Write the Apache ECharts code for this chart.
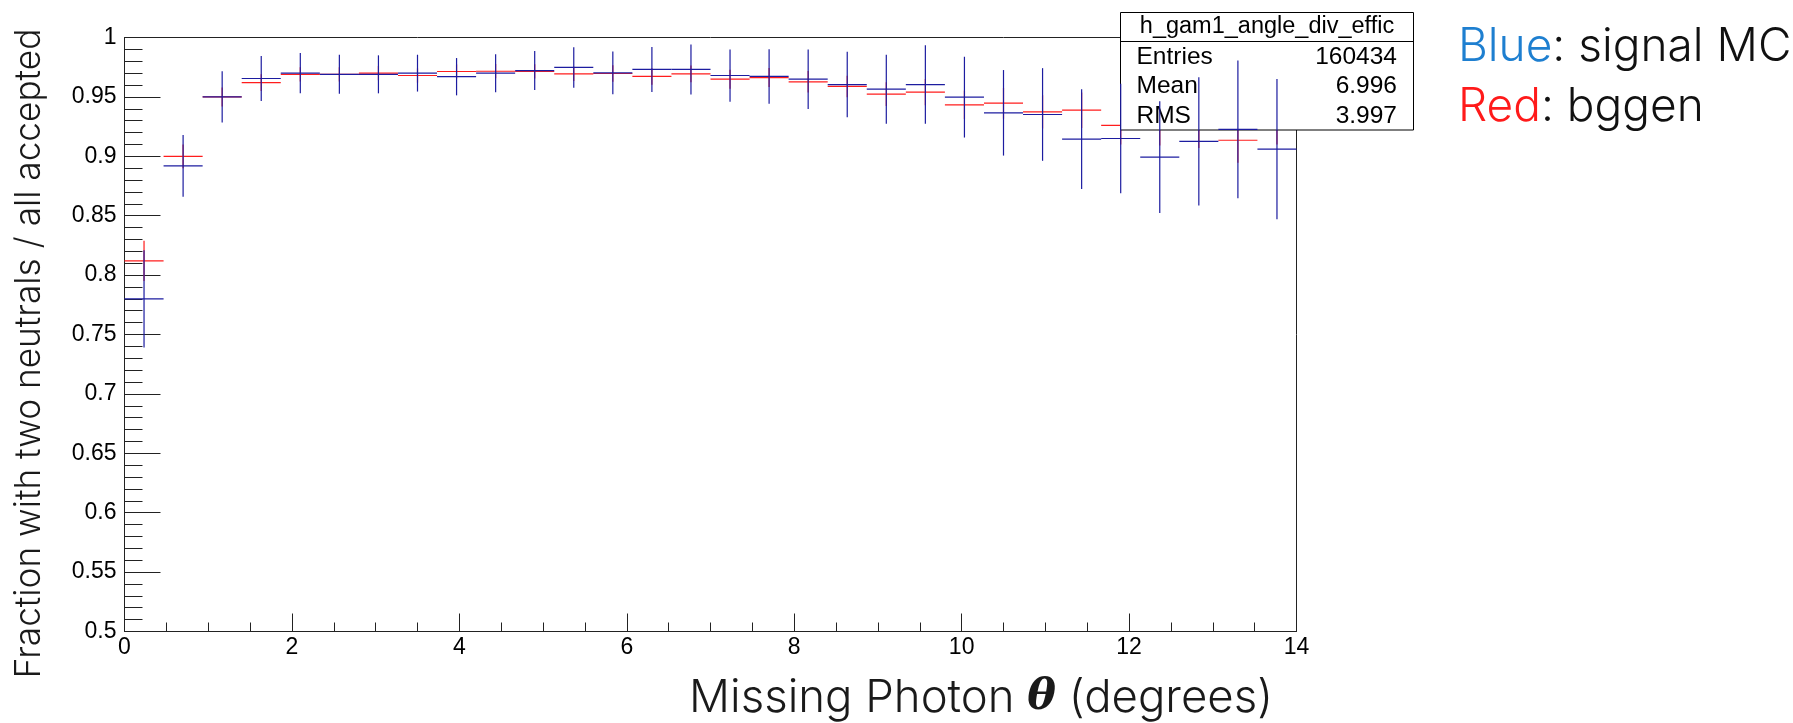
<!DOCTYPE html>
<html>
<head>
<meta charset="utf-8">
<script src="https://cdn.jsdelivr.net/npm/echarts@6/dist/echarts.min.js"></script>
<style>
  html, body { margin: 0; padding: 0; background: #fff; }
  #c { width: 1793px; height: 723px; }
</style>
</head>
<body>
<div id="c"></div>
<script>
(() => {
  "use strict";
  // histogram binning: 30 bins over 0..14 degrees
  const nBins = 30, xMin = 0, xMax = 14;
  // bgen (red)
  const redVal = [0.812, 0.900, 0.950, 0.962, 0.969, 0.969, 0.970, 0.968, 0.9714, 0.9716,
    0.9714, 0.9694, 0.9697, 0.9672, 0.9694, 0.9649, 0.9663, 0.9627, 0.9588, 0.9523,
    0.954, 0.9433, 0.9447, 0.9374, 0.9388, 0.926, 0.926, 0.925, 0.9135, 0.930];
  const redErr = [0.017, 0.010, 0.008, 0.007, 0.006, 0.006, 0.006, 0.006, 0.006, 0.006,
    0.006, 0.006, 0.007, 0.007, 0.007, 0.008, 0.008, 0.009, 0.009, 0.010,
    0.011, 0.012, 0.013, 0.014, 0.015, 0.016, 0.017, 0.018, 0.019, 0.020];
  // signal MC (blue)
  const blueVal = [0.780, 0.892, 0.950, 0.9655, 0.970, 0.969, 0.969, 0.970, 0.967, 0.970,
    0.9722, 0.9748, 0.9702, 0.9731, 0.9731, 0.968, 0.9672, 0.9649, 0.9604, 0.9565,
    0.9604, 0.9498, 0.9366, 0.9352, 0.9145, 0.915, 0.8993, 0.9126, 0.9226, 0.906];
  const blueErr = [0.041, 0.026, 0.0215, 0.019, 0.017, 0.0164, 0.016, 0.0155, 0.0157, 0.016,
    0.0164, 0.017, 0.018, 0.019, 0.021, 0.022, 0.023, 0.025, 0.0275, 0.029,
    0.033, 0.034, 0.036, 0.039, 0.042, 0.046, 0.047, 0.054, 0.058, 0.059];
  const stats = [["Entries", "160434"], ["Mean", "6.996"], ["RMS", "3.997"]];
  const histName = "h_gam1_angle_div_effic";

  const bw = (xMax - xMin) / nBins;
  const toData = (v, e) => v.map((y, i) => [xMin + i * bw, xMin + (i + 1) * bw, y, e[i]]);

  const TF = "'Liberation Sans', Arial, sans-serif";
  const LF = "Inter, Roboto, sans-serif";
  const RED = "#ff1c1c", BLUE = "#1c1ca0";

  const errSeries = (name, data, color, z) => ({
    name, type: "custom", z, data,
    encode: { x: [0, 1], y: 2 },
    renderItem: (params, api) => {
      const x0 = api.value(0), x1 = api.value(1), y = api.value(2), e = api.value(3);
      const a = api.coord([x0, y]), b = api.coord([x1, y]);
      const xc = (x0 + x1) / 2;
      const t = api.coord([xc, y + e]), d = api.coord([xc, y - e]);
      const st = { stroke: color, lineWidth: 1.2 };
      return {
        type: "group", children: [
          { type: "line", shape: { x1: a[0], y1: a[1], x2: b[0], y2: b[1] }, style: st },
          { type: "line", shape: { x1: t[0], y1: t[1], x2: d[0], y2: d[1] }, style: st },
        ]
      };
    },
  });

  const box = { x: 1120.5, y: 12.5, w: 293, h: 117.5 };
  const g = [
    { type: "rect", z: 5, shape: { x: box.x, y: box.y, width: box.w, height: box.h }, style: { fill: "#fff", stroke: "#000", lineWidth: 1 } },
    { type: "line", z: 5, shape: { x1: box.x, y1: 41.5, x2: box.x + box.w, y2: 41.5 }, style: { stroke: "#000", lineWidth: 1 } },
    { type: "text", z: 6, x: box.x + box.w / 2, y: 27, style: { text: histName, font: `23.5px ${TF}`, fill: "#000", textAlign: "center", textVerticalAlign: "middle" } },
  ];
  stats.forEach(([k, v], i) => {
    const yy = 57.5 + i * 29.2;
    g.push({ type: "text", z: 6, x: 1136.5, y: yy, style: { text: k, font: `24.5px ${TF}`, fill: "#000", textAlign: "left", textVerticalAlign: "middle" } });
    g.push({ type: "text", z: 6, x: 1397, y: yy, style: { text: v, font: `24.5px ${TF}`, fill: "#000", textAlign: "right", textVerticalAlign: "middle" } });
  });
  // axis titles
  g.push({
    type: "text", z: 6, x: 1273, y: 698,
    style: {
      text: "{t|Missing Photon }{th|θ}{t| (degrees)}", textAlign: "right", textVerticalAlign: "middle",
      rich: {
        t: { font: `300 45.5px ${LF}`, fill: "#1a1a1a" },
        th: { font: `bold italic 43px 'DejaVu Serif', serif`, fill: "#1a1a1a" },
      }
    }
  });
  g.push({
    type: "text", z: 6, x: 29.5, y: 28.6, rotation: Math.PI / 2,
    style: { text: "Fraction with two neutrals / all accepted", font: `300 35.2px ${LF}`, fill: "#1a1a1a", textAlign: "right", textVerticalAlign: "middle" }
  });
  // legend note
  g.push({
    type: "text", z: 6, x: 1458, y: 47.5,
    style: { text: "{b|Blue}{k|: signal MC}", textAlign: "left", textVerticalAlign: "middle",
      rich: { b: { font: `300 46px ${LF}`, fill: "#1e7fd0" }, k: { font: `300 46px ${LF}`, fill: "#111" } } }
  });
  g.push({
    type: "text", z: 6, x: 1458, y: 107.5,
    style: { text: "{r|Red}{k|: bggen}", textAlign: "left", textVerticalAlign: "middle",
      rich: { r: { font: `300 46px ${LF}`, fill: "#ff1a1a" }, k: { font: `300 46px ${LF}`, fill: "#111" } } }
  });

  const axisCol = "#222";
  const chart = echarts.init(document.getElementById("c"));
  chart.setOption({
    animation: false,
    backgroundColor: "#fff",
    grid: { left: 124.5, top: 37.5, right: 496.5, bottom: 91.5, show: true, borderColor: axisCol, borderWidth: 1, backgroundColor: "transparent" },
    xAxis: {
      type: "value", min: xMin, max: xMax, interval: 2,
      axisLine: { lineStyle: { color: axisCol } },
      axisTick: { inside: true, length: 18, lineStyle: { color: axisCol } },
      minorTick: { show: true, splitNumber: 4, length: 9, lineStyle: { color: axisCol } },
      splitLine: { show: false },
      axisLabel: { fontFamily: TF, fontSize: 23, color: "#000", margin: 5 },
    },
    yAxis: {
      type: "value", min: 0.5, max: 1, interval: 0.05,
      axisLine: { show: true, lineStyle: { color: axisCol } },
      axisTick: { show: true, inside: true, length: 36, lineStyle: { color: axisCol } },
      minorTick: { show: true, splitNumber: 5, length: 18, lineStyle: { color: axisCol } },
      splitLine: { show: false },
      axisLabel: { fontFamily: TF, fontSize: 23, color: "#000", margin: 8, formatter: v => `${+v.toFixed(2)}` },
    },
    graphic: { elements: g },
    series: [
      errSeries("bggen", toData(redVal, redErr), RED, 1),
      errSeries("signal MC", toData(blueVal, blueErr), BLUE, 10),
    ],
  });
})();
</script>
</body>
</html>
